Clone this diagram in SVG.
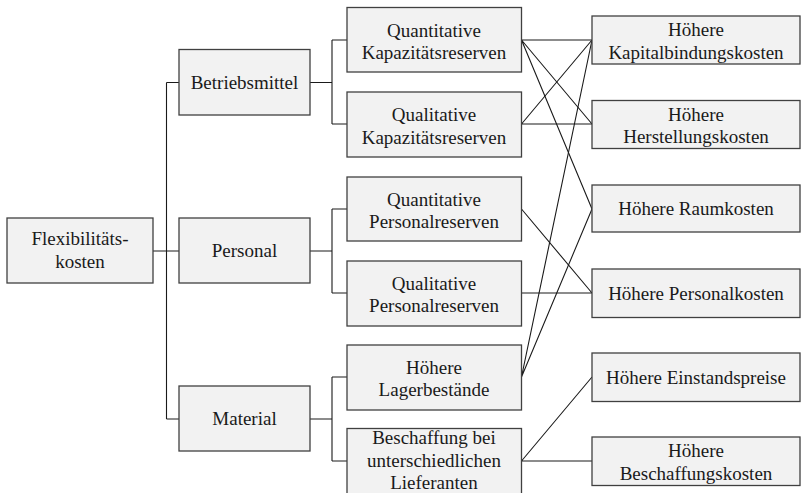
<svg xmlns="http://www.w3.org/2000/svg" width="801" height="493" viewBox="0 0 801 493">
  <style>
    .box { fill: #f2f2f2; stroke: #404040; stroke-width: 1.3; }
    .lbl { font-family: "Liberation Serif", "DejaVu Serif", serif; font-size: 19px; fill: #1a1a1a; text-anchor: middle; }
    .wire { fill: none; stroke: #1a1a1a; stroke-width: 1.1; }
  </style>
  <rect width="801" height="493" fill="#ffffff"/>

  <!-- connectors -->
  <g id="connectors" class="wire">
    <!-- tree: root to categories -->
    <path d="M153 251 H166.5 M166.5 82.5 V419 M166.5 82.5 H179 M166.5 251 H179 M166.5 419 H179"/>
    <!-- categories to measures -->
    <path d="M310 82.5 H332 M332 40 V124 M332 40 H347 M332 124 H347"/>
    <path d="M310 251 H332 M332 209 V293 M332 209 H347 M332 293 H347"/>
    <path d="M310 419 H332 M332 377 V461 M332 377 H347 M332 461 H347"/>
    <!-- measures to cost effects -->
    <path d="M521.5 40 L592 40 M521.5 40 L592 124 M521.5 40 L592 209"/>
    <path d="M521.5 124 L592 40 M521.5 124 L592 124"/>
    <path d="M521.5 209 L592 293 M521.5 293 L592 293"/>
    <path d="M521.5 377 L592 40 M521.5 377 L592 209"/>
    <path d="M521.5 461 L592 377 M521.5 461 L592 461"/>
  </g>

  <!-- root -->
  <g id="flexibilitaetskosten">
    <rect class="box" x="7" y="218" width="146" height="65"/>
    <text class="lbl" x="80" y="245">Flexibilitäts-</text>
    <text class="lbl" x="80" y="268">kosten</text>
  </g>

  <!-- categories -->
  <g id="betriebsmittel">
    <rect class="box" x="179" y="49.5" width="131" height="65.5"/>
    <text class="lbl" x="244.5" y="88.5">Betriebsmittel</text>
  </g>
  <g id="personal">
    <rect class="box" x="179" y="218" width="131" height="65"/>
    <text class="lbl" x="244.5" y="257">Personal</text>
  </g>
  <g id="material">
    <rect class="box" x="179" y="386" width="131" height="65"/>
    <text class="lbl" x="244.5" y="425">Material</text>
  </g>

  <!-- measures -->
  <g id="quant-kapazitaet">
    <rect class="box" x="347" y="7.5" width="174.5" height="64.5"/>
    <text class="lbl" x="434" y="36.5">Quantitative</text>
    <text class="lbl" x="434" y="59">Kapazitätsreserven</text>
  </g>
  <g id="qual-kapazitaet">
    <rect class="box" x="347" y="92" width="174.5" height="65"/>
    <text class="lbl" x="434" y="121">Qualitative</text>
    <text class="lbl" x="434" y="143.5">Kapazitätsreserven</text>
  </g>
  <g id="quant-personal">
    <rect class="box" x="347" y="177" width="174.5" height="64"/>
    <text class="lbl" x="434" y="205.5">Quantitative</text>
    <text class="lbl" x="434" y="228">Personalreserven</text>
  </g>
  <g id="qual-personal">
    <rect class="box" x="347" y="261" width="174.5" height="65"/>
    <text class="lbl" x="434" y="289.5">Qualitative</text>
    <text class="lbl" x="434" y="312">Personalreserven</text>
  </g>
  <g id="lagerbestaende">
    <rect class="box" x="347" y="345" width="174.5" height="65"/>
    <text class="lbl" x="434" y="373.5">Höhere</text>
    <text class="lbl" x="434" y="396">Lagerbestände</text>
  </g>
  <g id="beschaffung">
    <rect class="box" x="347" y="428.5" width="174.5" height="70"/>
    <text class="lbl" x="434" y="444">Beschaffung bei</text>
    <text class="lbl" x="434" y="466.5">unterschiedlichen</text>
    <text class="lbl" x="434" y="488.5">Lieferanten</text>
  </g>

  <!-- cost effects -->
  <g id="kapitalbindungskosten">
    <rect class="box" x="592" y="16" width="208" height="48"/>
    <text class="lbl" x="696" y="36">Höhere</text>
    <text class="lbl" x="696" y="58.5">Kapitalbindungskosten</text>
  </g>
  <g id="herstellungskosten">
    <rect class="box" x="592" y="100.5" width="208" height="48"/>
    <text class="lbl" x="696" y="120.5">Höhere</text>
    <text class="lbl" x="696" y="143">Herstellungskosten</text>
  </g>
  <g id="raumkosten">
    <rect class="box" x="592" y="185" width="208" height="47"/>
    <text class="lbl" x="696" y="215">Höhere Raumkosten</text>
  </g>
  <g id="personalkosten">
    <rect class="box" x="592" y="269" width="208" height="48.5"/>
    <text class="lbl" x="696" y="299.5">Höhere Personalkosten</text>
  </g>
  <g id="einstandspreise">
    <rect class="box" x="592" y="353" width="208" height="48.5"/>
    <text class="lbl" x="696" y="383.5">Höhere Einstandspreise</text>
  </g>
  <g id="beschaffungskosten">
    <rect class="box" x="592" y="437" width="208" height="48.5"/>
    <text class="lbl" x="696" y="457">Höhere</text>
    <text class="lbl" x="696" y="479.5">Beschaffungskosten</text>
  </g>
</svg>
